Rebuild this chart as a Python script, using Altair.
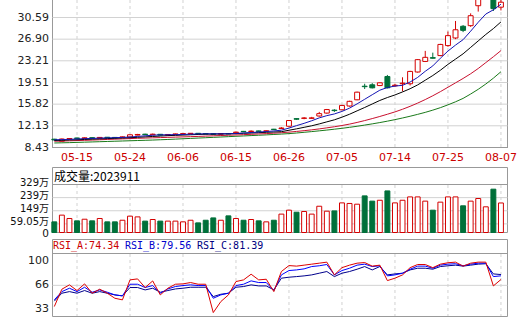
import altair as alt
import pandas as pd

N = 60
idx = list(range(N))

opens = [9.85, 9.5, 9.88, 10.05, 9.98, 10.1, 10.02, 10.18, 10.15, 10.08,
         10.22, 10.55, 10.7, 10.6, 10.68, 10.55, 10.62, 10.72, 10.78, 10.85,
         10.8, 10.76, 10.7, 10.8, 10.95, 11.18, 11.15, 11.25, 11.2, 11.55,
         11.66, 12.06, 13.35, 13.4, 13.4, 13.8, 14.3, 14.8, 14.86, 15.5,
         16.56, 18.88, 19.12, 18.99, 20.53, 18.95, 19.3, 19.3, 21.3, 23.1,
         23.75, 24.1, 25.8, 27.1, 29.1, 29.2, 32.6, 33.9, 34.3, 32.35]
closes = [9.72, 9.88, 9.95, 9.98, 10.08, 10.02, 10.15, 10.1, 10.08, 10.25,
          10.6, 10.65, 10.62, 10.7, 10.55, 10.65, 10.75, 10.8, 10.85, 10.78,
          10.74, 10.7, 10.8, 10.74, 11.05, 11.12, 11.22, 11.18, 11.28, 11.48,
          11.75, 13.03, 13.25, 13.46, 13.48, 14.2, 14.9, 14.72, 15.6, 16.3,
          17.86, 18.8, 18.6, 19.46, 18.6, 19.05, 19.4, 21.4, 23.4, 23.8,
          23.65, 26.0, 27.5, 28.5, 28.4, 30.9, 33.8, 34.6, 32.1, 33.2]
highs = [9.9, 9.95, 10.0, 10.1, 10.15, 10.15, 10.2, 10.22, 10.2, 10.3,
         10.65, 10.75, 10.78, 10.8, 10.72, 10.7, 10.8, 10.85, 10.9, 10.9,
         10.85, 10.8, 10.85, 10.85, 11.15, 11.25, 11.35, 11.3, 11.35, 11.6,
         11.9, 13.1, 13.4, 13.6, 13.65, 14.5, 15.0, 14.95, 15.7, 16.4,
         17.95, 19.3, 19.4, 19.5, 20.8, 19.3, 20.4, 21.5, 23.5, 24.9,
         24.6, 26.1, 28.2, 30.0, 29.3, 31.3, 34.2, 35.2, 34.6, 33.6]
lows = [9.65, 9.45, 9.8, 9.9, 9.95, 9.98, 10.0, 10.05, 10.02, 10.05,
        10.2, 10.5, 10.55, 10.55, 10.5, 10.5, 10.6, 10.68, 10.72, 10.72,
        10.68, 10.64, 10.66, 10.7, 10.9, 11.05, 11.1, 11.1, 11.15, 11.4,
        11.6, 12.0, 13.15, 13.25, 13.3, 13.7, 14.2, 14.5, 14.8, 15.4,
        16.5, 18.4, 18.5, 18.9, 18.5, 18.8, 18.0, 19.0, 21.2, 23.0,
        23.6, 24.0, 25.6, 26.9, 28.1, 29.0, 31.6, 33.6, 31.7, 31.8]

ma5 = [9.74, 9.78, 9.82, 9.88, 9.93, 9.98, 10.03, 10.07, 10.1, 10.15,
       10.22, 10.32, 10.42, 10.52, 10.58, 10.6, 10.62, 10.66, 10.7, 10.74,
       10.76, 10.76, 10.76, 10.77, 10.82, 10.9, 10.98, 11.06, 11.15, 11.25,
       11.38, 11.74, 12.16, 12.55, 12.99, 13.48, 13.86, 14.15, 14.58, 15.14,
       15.87, 16.65, 17.43, 18.2, 18.66, 18.9, 19.03, 19.59, 20.38, 21.42,
       22.34, 23.65, 24.87, 25.89, 26.81, 28.26, 29.78, 31.18, 31.9, 32.86]
ma10 = [9.62, 9.66, 9.71, 9.75, 9.8, 9.85, 9.9, 9.95, 10.0, 10.05,
        10.1, 10.17, 10.24, 10.31, 10.38, 10.45, 10.5, 10.55, 10.6, 10.65,
        10.7, 10.72, 10.74, 10.77, 10.8, 10.85, 10.9, 10.96, 11.02, 11.07,
        11.13, 11.37, 11.61, 11.87, 12.13, 12.45, 12.8, 13.15, 13.6, 14.1,
        14.68, 15.25, 15.85, 16.45, 16.95, 17.39, 17.9, 18.45, 19.1, 19.9,
        20.7, 21.6, 22.6, 23.5, 24.4, 25.5, 26.6, 27.7, 28.7, 29.84]
ma20 = [9.5, 9.53, 9.57, 9.61, 9.65, 9.7, 9.75, 9.8, 9.85, 9.9,
        9.95, 10.0, 10.04, 10.08, 10.12, 10.16, 10.2, 10.24, 10.28, 10.32,
        10.37, 10.42, 10.47, 10.52, 10.57, 10.62, 10.68, 10.74, 10.8, 10.87,
        10.95, 11.05, 11.17, 11.3, 11.44, 11.6, 11.78, 11.97, 12.18, 12.42,
        12.7, 13.02, 13.36, 13.72, 14.1, 14.5, 14.95, 15.45, 16.0, 16.6,
        17.25, 17.95, 18.7, 19.45, 20.2, 21.0, 21.9, 22.9, 23.9, 24.95]
ma30 = [9.2, 9.23, 9.26, 9.3, 9.34, 9.38, 9.42, 9.46, 9.5, 9.54,
        9.58, 9.62, 9.66, 9.7, 9.75, 9.8, 9.86, 9.92, 9.98, 10.04,
        10.1, 10.16, 10.22, 10.28, 10.34, 10.4, 10.46, 10.52, 10.58, 10.65,
        10.72, 10.8, 10.9, 11.02, 11.14, 11.27, 11.4, 11.55, 11.7, 11.87,
        12.05, 12.25, 12.46, 12.68, 12.92, 13.18, 13.46, 13.76, 14.08, 14.42,
        14.8, 15.22, 15.7, 16.22, 16.8, 17.55, 18.35, 19.25, 20.25, 21.35]

volume = [73, 119, 96, 80, 91, 80, 96, 73, 73, 84,
          112, 107, 78, 89, 78, 78, 78, 73, 84, 66,
          84, 100, 84, 114, 96, 84, 89, 80, 73, 84,
          126, 153, 139, 144, 126, 180, 146, 148, 203, 199,
          194, 251, 215, 221, 285, 203, 221, 244, 244, 215,
          153, 208, 244, 244, 183, 215, 233, 176, 297, 202.39]

rsi_a = [35.8, 60.5, 66.7, 58.6, 68.1, 54.8, 60.5, 54.8, 47.6, 45.3,
         73.8, 75.2, 62.9, 72.3, 52.4, 61.9, 67.6, 68.1, 70.0, 67.6,
         67.6, 27.2, 42.9, 52.4, 71.4, 73.8, 81.9, 73.8, 74.7, 57.1,
         85.7, 94.2, 93.4, 94.8, 96.2, 97.6, 99.1, 80.9, 91.2, 94.8,
         97.6, 98.5, 93.4, 94.8, 72.8, 76.2, 80.9, 91.2, 95.7, 95.7,
         91.2, 96.2, 98.2, 99.1, 93.4, 97.6, 99.1, 99.1, 65.2, 74.34]
rsi_b = [45.3, 57.1, 61.9, 57.1, 63.3, 56.2, 59.5, 56.2, 52.4, 51.0,
         67.6, 67.6, 62.9, 65.7, 54.8, 60.9, 64.3, 65.7, 66.7, 65.7,
         65.7, 47.6, 52.4, 54.8, 65.7, 67.6, 72.4, 70.0, 70.0, 58.5,
         80.9, 87.1, 88.0, 89.5, 92.8, 93.9, 95.7, 80.9, 87.1, 90.4,
         94.8, 96.2, 92.8, 93.9, 79.5, 80.9, 83.3, 89.0, 93.4, 93.4,
         90.4, 94.8, 96.2, 96.8, 93.9, 96.2, 97.6, 97.6, 78.5, 79.56]
rsi_c = [43.5, 54.8, 57.1, 54.8, 58.6, 54.8, 57.1, 54.8, 52.4, 51.0,
         62.9, 62.9, 59.5, 61.9, 56.2, 58.6, 60.9, 61.9, 63.3, 63.3,
         63.3, 50.0, 53.3, 54.8, 63.3, 64.3, 66.7, 65.2, 65.2, 59.5,
         76.2, 77.6, 78.5, 79.5, 80.9, 83.3, 85.7, 78.5, 83.3, 85.7,
         89.0, 92.8, 88.0, 92.8, 80.9, 82.3, 83.3, 88.0, 90.4, 90.4,
         89.0, 92.8, 93.9, 94.8, 93.4, 94.8, 96.2, 96.8, 82.3, 81.39]

date_idx = [3, 10, 17, 24, 31, 38, 45, 52, 59]
date_lbl = ["05-15", "05-24", "06-06", "06-15", "06-26", "07-05", "07-14", "07-25", "08-07"]
price_ticks = [8.43, 12.13, 15.82, 19.51, 23.21, 26.90, 30.59]
price_lbl = ["8.43", "12.13", "15.82", "19.51", "23.21", "26.90", "30.59"]
vol_ticks = [0, 59.05, 149, 239, 329]
vol_lbl = ["0", "59.05万", "149万", "239万", "329万"]
rsi_ticks = [33, 66, 100]
rsi_lbl = ["33", "66", "100"]
vol_title = "成交量:2023911"
rsi_names = ["RSI_A:74.34", "RSI_B:79.56", "RSI_C:81.39"]

RED = "#d40000"
GREEN = "#00703a"
FRAME = "#999999"
GRID = "#d2d2d2"
FONT = "DejaVu Sans"

df = pd.DataFrame(dict(i=idx, o=opens, c=closes, h=highs, l=lows,
                       m5=ma5, m10=ma10, m20=ma20, m30=ma30,
                       vol=volume, a=rsi_a, b=rsi_b, cc=rsi_c))
df["up"] = df["c"] >= df["o"]
dates = pd.DataFrame(dict(i=date_idx, lbl=date_lbl))
pt = pd.DataFrame(dict(v=price_ticks, lbl=price_lbl))
vt = pd.DataFrame(dict(v=vol_ticks, lbl=vol_lbl))
rt = pd.DataFrame(dict(v=rsi_ticks, lbl=rsi_lbl))
one = pd.DataFrame({"k": [0]})

xs = alt.Scale(domain=idx, range=[0.84, 452.4], paddingInner=0.35, paddingOuter=0)
X = alt.X("i:O", scale=xs, axis=None)

def cond(a, b):
    return alt.condition("datum.up", alt.value(a), alt.value(b))

# ---------- price panel ----------
py = alt.Scale(domain=[8.43, 33.49], range=[147.5, 0.5], zero=False, nice=False)
p_hgrid = alt.Chart(pt[pt.v > 8.43]).mark_rule(color=GRID, strokeWidth=1).encode(
    y=alt.Y("v:Q", scale=py, axis=None), x=alt.value(1.5), x2=alt.value(456.5))
p_vgrid = alt.Chart(dates).mark_rule(color=GRID, strokeDash=[3, 3]).encode(
    x=X, y=alt.value(0), y2=alt.value(147))
wick = alt.Chart(df).mark_rule(strokeWidth=1, clip=True).encode(
    x=X, y=alt.Y("l:Q", scale=py, axis=None), y2="h:Q", color=cond(RED, GREEN))
body = alt.Chart(df).mark_bar(strokeWidth=1, clip=True).encode(
    x=X, y=alt.Y("o:Q", scale=py, axis=None), y2="c:Q",
    fill=cond("#ffffff", GREEN), stroke=cond(RED, GREEN))
lines = []
for col, colr in [("m30", "#1a7a1a"), ("m20", "#c8102e"), ("m10", "#000000"), ("m5", "#1414b4")]:
    lines.append(alt.Chart(df).mark_line(color=colr, strokeWidth=1, clip=True).encode(
        x=X, y=alt.Y(f"{col}:Q", scale=py, axis=None)))
p_lbl = alt.Chart(pt).mark_text(align="right", baseline="middle", font=FONT, fontSize=11, color="#222222").encode(
    y=alt.Y("v:Q", scale=py, axis=None), x=alt.value(-2), text="lbl:N")
price = alt.layer(p_hgrid, p_vgrid, wick, body, *lines, p_lbl)

# ---------- volume panel ----------
vy = alt.Scale(domain=[0, 329], range=[232.5, 184.5], zero=True, nice=False)
v_hgrid = alt.Chart(vt[(vt.v > 0) & (vt.v < 329)]).mark_rule(color=GRID).encode(
    y=alt.Y("v:Q", scale=vy, axis=None), x=alt.value(1.5), x2=alt.value(456.5))
v_top = alt.Chart(vt[vt.v == 329]).mark_rule(color=FRAME).encode(
    y=alt.Y("v:Q", scale=vy, axis=None), x=alt.value(1.5), x2=alt.value(456.5))
v_vgrid = alt.Chart(dates).mark_rule(color=GRID, strokeDash=[3, 3]).encode(
    x=X, y=alt.value(185), y2=alt.value(232))
v_bars = alt.Chart(df).mark_bar(strokeWidth=1).encode(
    x=X, y=alt.Y("vol:Q", scale=vy, axis=None),
    fill=cond("#ffffff", GREEN), stroke=cond(RED, GREEN))
v_lbl = alt.Chart(vt[vt.v > 0]).mark_text(align="right", baseline="middle", dy=-1.5,
                                          font=FONT + ", Noto Sans CJK SC",
                                          fontSize=10, color="#111111").encode(
    y=alt.Y("v:Q", scale=vy, axis=None), x=alt.value(-2), text="lbl:N")
v_lbl0 = alt.Chart(vt[vt.v == 0]).mark_text(align="right", baseline="alphabetic", dy=4,
                                            font=FONT, fontSize=10.5, color="#111111").encode(
    y=alt.Y("v:Q", scale=vy, axis=None), x=alt.value(-2), text="lbl:N")
vol = alt.layer(v_hgrid, v_vgrid, v_top, v_bars, v_lbl, v_lbl0)

# ---------- RSI panel ----------
ry = alt.Scale(domain=[21.6, 111.4], range=[316.5, 253.5], zero=False, nice=False)
r_hgrid = alt.Chart(rt[rt.v == 66]).mark_rule(color=GRID).encode(
    y=alt.Y("v:Q", scale=ry, axis=None), x=alt.value(1.5), x2=alt.value(456.5))
r_vgrid = alt.Chart(dates).mark_rule(color=GRID, strokeDash=[3, 3]).encode(
    x=X, y=alt.value(254), y2=alt.value(316))
r_lines = []
for col, colr in [("cc", "#00008b"), ("b", "#0000ff"), ("a", "#dd0000")]:
    r_lines.append(alt.Chart(df).mark_line(color=colr, strokeWidth=1).encode(
        x=X, y=alt.Y(f"{col}:Q", scale=ry, axis=None)))
r_lbl = alt.Chart(rt).mark_text(align="right", baseline="middle", font=FONT, fontSize=11, color="#222222").encode(
    y=alt.Y("v:Q", scale=ry, axis=None), x=alt.value(-2), text="lbl:N")
rsi = alt.layer(r_hgrid, r_vgrid, *r_lines, r_lbl)

# ---------- frames & texts ----------
b = alt.Chart(one)
frames = alt.layer(
    b.mark_rule(color=FRAME).encode(x=alt.value(1.5), y=alt.value(0), y2=alt.value(148)),
    b.mark_rule(color=FRAME).encode(x=alt.value(1.5), x2=alt.value(456.5), y=alt.value(147.5)),
    b.mark_rule(color=FRAME).encode(x=alt.value(456.5), y=alt.value(0), y2=alt.value(148)),
    b.mark_rect(fillOpacity=0, stroke=FRAME, strokeWidth=1).encode(
        x=alt.value(1.5), x2=alt.value(456.5), y=alt.value(167.5), y2=alt.value(232.5)),
    b.mark_rect(fillOpacity=0, stroke=FRAME, strokeWidth=1).encode(
        x=alt.value(1.5), x2=alt.value(456.5), y=alt.value(239.5), y2=alt.value(316.5)),
    b.mark_rule(color=FRAME).encode(x=alt.value(1.5), x2=alt.value(456.5), y=alt.value(253.5)),
)
x_lbl = alt.Chart(dates).mark_text(baseline="middle", font=FONT, fontSize=11, color="#cc0000").encode(
    x=X, y=alt.value(158), text="lbl:N")
t_vol = b.mark_text(align="left", baseline="middle", font="Noto Sans CJK SC", fontSize=12, color="#000000").encode(
    x=alt.value(3), y=alt.value(176.5), text=alt.value(vol_title))
rsi_cols = ["#cc0000", "#0000cc", "#000080"]
t_rsi = [b.mark_text(align="left", baseline="middle", font="DejaVu Sans Mono", fontSize=10, color=cl).encode(
    x=alt.value(2 + 72 * k), y=alt.value(246), text=alt.value(nm)) for k, (nm, cl) in enumerate(zip(rsi_names, rsi_cols))]

chart = alt.layer(frames, price, vol, rsi, x_lbl, t_vol, *t_rsi).resolve_scale(
    y="independent"
).properties(
    width=457, height=316,
    padding={"left": 51, "top": 0, "right": 19, "bottom": 13},
    autosize=alt.AutoSizeParams(type="none"),
    background="white",
).configure_view(strokeWidth=0)

chart.save("out.html", embed_options={"renderer": "svg", "actions": False})
